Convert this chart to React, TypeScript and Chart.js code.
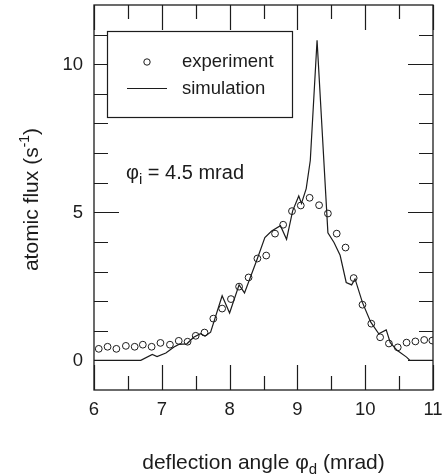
import { useEffect, useRef } from 'react';
import { Chart, registerables } from 'chart.js';
Chart.register(...registerables);

// ---- data ----
const expX = [6.07, 6.2, 6.33, 6.47, 6.6, 6.72, 6.85, 6.98, 7.12, 7.25, 7.38, 7.5, 7.63, 7.76, 7.89, 8.02, 8.14, 8.28, 8.41, 8.54, 8.67, 8.79, 8.92, 9.05, 9.18, 9.32, 9.45, 9.58, 9.71, 9.83, 9.96, 10.09, 10.22, 10.35, 10.48, 10.61, 10.74, 10.87, 10.99];
const expY = [0.39, 0.46, 0.39, 0.49, 0.46, 0.53, 0.46, 0.59, 0.53, 0.66, 0.63, 0.83, 0.94, 1.41, 1.75, 2.07, 2.49, 2.8, 3.44, 3.54, 4.28, 4.58, 5.04, 5.23, 5.49, 5.24, 4.96, 4.28, 3.81, 2.78, 1.88, 1.24, 0.78, 0.57, 0.44, 0.6, 0.64, 0.69, 0.67];

const simX = [6.0, 6.69, 6.86, 6.93, 7.06, 7.18, 7.25, 7.37, 7.47, 7.57, 7.64, 7.72, 7.89, 8.0, 8.14, 8.22, 8.41, 8.52, 8.62, 8.75, 8.84, 8.93, 9.02, 9.06, 9.13, 9.19, 9.29, 9.45, 9.54, 9.63, 9.72, 9.8, 9.85, 9.96, 10.08, 10.2, 10.31, 10.37, 10.47, 10.61, 10.66, 11.0];
const simY = [0, 0, 0.2, 0.13, 0.25, 0.45, 0.54, 0.56, 0.78, 0.9, 0.82, 0.95, 2.18, 1.6, 2.55, 2.28, 3.44, 4.15, 4.37, 4.55, 4.09, 5.05, 5.55, 5.3, 5.8, 6.75, 10.81, 4.31, 3.98, 3.55, 2.63, 2.55, 2.75, 1.95, 1.3, 0.9, 1.03, 0.6, 0.34, 0.11, 0, 0];

const xMajorTicks = [6, 7, 8, 9, 10, 11];
const xMinorTicks = [6.5, 7.5, 8.5, 9.5, 10.5];
const yMajorTicks = [0, 5, 10];
const yMinorTicks = [1, 2, 3, 4, 6, 7, 8, 9, 11];

const seriesLabels = ['experiment', 'simulation'];

const FONT = '"Liberation Sans", Arial, Helvetica, sans-serif';
const INK = '#1c1c1c';

type Part = { text: string; size: number; dy?: number };

function richWidth(ctx: CanvasRenderingContext2D, parts: Part[]) {
  let w = 0;
  for (const p of parts) {
    ctx.font = `${p.size}px ${FONT}`;
    w += ctx.measureText(p.text).width;
  }
  return w;
}

function drawRich(ctx: CanvasRenderingContext2D, parts: Part[], x: number, y: number, align: 'left' | 'center') {
  const w = richWidth(ctx, parts);
  let cx = align === 'center' ? x - w / 2 : x;
  ctx.textAlign = 'left';
  ctx.textBaseline = 'alphabetic';
  for (const p of parts) {
    ctx.font = `${p.size}px ${FONT}`;
    ctx.fillText(p.text, cx, y + (p.dy || 0));
    cx += ctx.measureText(p.text).width;
  }
}

const framePlugin = {
  id: 'framePlugin',
  afterDraw(chart: any) {
    const ctx: CanvasRenderingContext2D = chart.ctx;
    const { left, right, top, bottom } = chart.chartArea;
    const xs = chart.scales.x;
    const ys = chart.scales.y;
    ctx.save();
    ctx.strokeStyle = INK;
    ctx.fillStyle = INK;
    ctx.lineWidth = 1.3;
    ctx.strokeRect(left, top, right - left, bottom - top);

    const LONG = 25;
    const SHORT = 14;
    ctx.lineWidth = 1.2;
    ctx.beginPath();
    for (const v of xMajorTicks) {
      const px = Math.round(xs.getPixelForValue(v)) + 0.5;
      ctx.moveTo(px, bottom); ctx.lineTo(px, bottom - LONG);
      ctx.moveTo(px, top); ctx.lineTo(px, top + LONG);
    }
    for (const v of xMinorTicks) {
      const px = Math.round(xs.getPixelForValue(v)) + 0.5;
      ctx.moveTo(px, bottom); ctx.lineTo(px, bottom - SHORT);
      ctx.moveTo(px, top); ctx.lineTo(px, top + SHORT);
    }
    for (const v of yMajorTicks) {
      const py = Math.round(ys.getPixelForValue(v)) + 0.5;
      ctx.moveTo(left, py); ctx.lineTo(left + LONG, py);
      ctx.moveTo(right, py); ctx.lineTo(right - LONG, py);
    }
    for (const v of yMinorTicks) {
      const py = Math.round(ys.getPixelForValue(v)) + 0.5;
      ctx.moveTo(left, py); ctx.lineTo(left + SHORT, py);
      ctx.moveTo(right, py); ctx.lineTo(right - SHORT, py);
    }
    ctx.stroke();

    // tick labels
    ctx.font = `18.5px ${FONT}`;
    ctx.textAlign = 'center';
    ctx.textBaseline = 'middle';
    for (const v of xMajorTicks) {
      ctx.fillText(String(v), xs.getPixelForValue(v), bottom + 20);
    }
    ctx.textAlign = 'right';
    for (const v of yMajorTicks) {
      ctx.fillText(String(v), left - 11, ys.getPixelForValue(v) + 1);
    }

    // axis titles
    drawRich(ctx, [
      { text: 'deflection angle φ', size: 21 },
      { text: 'd', size: 15, dy: 5 },
      { text: ' (mrad)', size: 21 },
    ], (left + right) / 2, 469, 'center');

    ctx.save();
    ctx.translate(38, (top + bottom) / 2 + 2);
    ctx.rotate(-Math.PI / 2);
    drawRich(ctx, [
      { text: 'atomic flux (s', size: 21 },
      { text: '-1', size: 14, dy: -9 },
      { text: ')', size: 21 },
    ], 0, 0, 'center');
    ctx.restore();

    // annotation
    drawRich(ctx, [
      { text: 'φ', size: 20 },
      { text: 'i', size: 15, dy: 5 },
      { text: ' = 4.5 mrad', size: 20 },
    ], 126, 179, 'left');

    // legend
    const lx = 107, ly = 31, lw = 185, lh = 86;
    ctx.fillStyle = '#ffffff';
    ctx.fillRect(lx, ly, lw, lh);
    ctx.strokeStyle = INK;
    ctx.lineWidth = 1.2;
    ctx.strokeRect(lx + 0.5, ly + 0.5, lw, lh);
    ctx.fillStyle = INK;
    ctx.beginPath();
    ctx.arc(147, 62, 3.2, 0, Math.PI * 2);
    ctx.lineWidth = 1;
    ctx.stroke();
    ctx.beginPath();
    ctx.moveTo(127, 88.5); ctx.lineTo(167, 88.5);
    ctx.lineWidth = 1.2;
    ctx.stroke();
    ctx.font = `18.5px ${FONT}`;
    ctx.textAlign = 'left';
    ctx.textBaseline = 'alphabetic';
    ctx.fillText(seriesLabels[0], 182, 67);
    ctx.fillText(seriesLabels[1], 182, 94);
    ctx.restore();
  },
};

export default function App() {
  const ref = useRef<HTMLCanvasElement | null>(null);
  useEffect(() => {
    document.body.style.margin = '0';
    const canvas = ref.current;
    if (!canvas) return;
    const chart = new Chart(canvas, {
      type: 'scatter',
      data: {
        datasets: [
          {
            label: seriesLabels[1],
            data: simX.map((x, i) => ({ x, y: simY[i] })),
            showLine: true,
            borderColor: INK,
            borderWidth: 1.2,
            pointRadius: 0,
            tension: 0,
            fill: false,
          },
          {
            label: seriesLabels[0],
            data: expX.map((x, i) => ({ x, y: expY[i] })),
            showLine: false,
            pointRadius: 3.4,
            pointBorderWidth: 1,
            pointBorderColor: INK,
            pointBackgroundColor: 'rgba(255,255,255,0)',
          },
        ],
      },
      options: {
        responsive: false,
        animation: false,
        devicePixelRatio: 1,
        layout: { padding: { left: 94, right: 10, top: 3, bottom: 85 } },
        plugins: { legend: { display: false }, tooltip: { enabled: false } },
        events: [],
        scales: {
          x: { type: 'linear', min: 6, max: 11, display: false },
          y: { type: 'linear', min: -1, max: 12, display: false },
        },
      },
      plugins: [framePlugin],
    });
    return () => chart.destroy();
  }, []);
  return <canvas ref={ref} width={443} height={475} style={{ display: 'block' }} />;
}
